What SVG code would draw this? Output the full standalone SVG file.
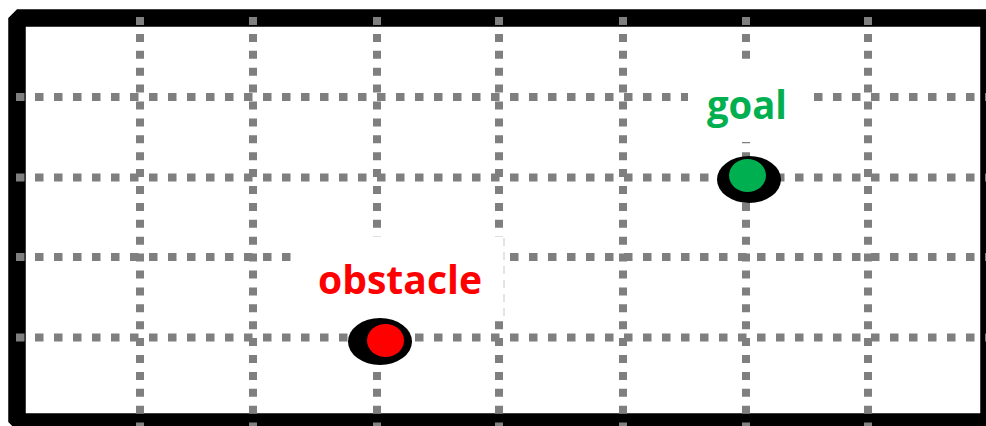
<svg xmlns="http://www.w3.org/2000/svg" width="986" height="426" viewBox="0 0 986 426">
  <style>
    .h { stroke: #7f7f7f; stroke-width: 8; stroke-dasharray: 8.5 10.5; fill: none; }
    .v { stroke: #7f7f7f; stroke-width: 8; stroke-dasharray: 8 8.9; fill: none; }
    .mask { fill: #ffffff; stroke: none; }
    .label { font-family: "Open Sans", "Liberation Sans", sans-serif; font-weight: bold; font-size: 40px; }
    .halo { fill: #000000; }
  </style>
  <rect x="0" y="0" width="986" height="426" fill="#ffffff"/>
  <g id="frame">
    <rect x="17" y="18" width="972" height="404" fill="#ffffff" stroke="#000000" stroke-width="17.5" stroke-linejoin="bevel"/>
  </g>
  <g id="grid">
    <line class="h" x1="16" y1="97" x2="986" y2="97"/>
    <line class="h" x1="16" y1="177.5" x2="986" y2="177.5"/>
    <line class="h" x1="16" y1="257" x2="986" y2="257"/>
    <line class="h" x1="16" y1="337.5" x2="986" y2="337.5"/>
    <line class="v" x1="140" y1="17" x2="140" y2="426"/>
    <line class="v" x1="253" y1="17" x2="253" y2="426"/>
    <line class="v" x1="377" y1="17" x2="377" y2="426"/>
    <line class="v" x1="499" y1="17" x2="499" y2="426"/>
    <line class="v" x1="623" y1="17" x2="623" y2="426"/>
    <line class="v" x1="746" y1="17" x2="746" y2="426"/>
    <line class="v" x1="868" y1="17" x2="868" y2="426"/>
  </g>
  <g id="goal">
    <rect class="mask" x="688" y="59" width="124" height="83"/>
    <text class="label" x="707" y="119" fill="#00b050" textLength="80" lengthAdjust="spacingAndGlyphs">goal</text>
    <ellipse class="halo" cx="749" cy="179.5" rx="32" ry="23.5"/>
    <ellipse cx="747.5" cy="175.5" rx="18.5" ry="16.5" fill="#00b050"/>
  </g>
  <g id="obstacle">
    <rect class="mask" x="292" y="237" width="212" height="81"/>
    <line x1="504" y1="238" x2="504" y2="318" stroke="#c8c8c8" stroke-width="1" stroke-dasharray="8 6"/>
    <text class="label" x="318" y="294" fill="#ff0000" textLength="164" lengthAdjust="spacingAndGlyphs">obstacle</text>
    <ellipse class="halo" cx="380" cy="341.5" rx="32" ry="23.5"/>
    <ellipse cx="385.5" cy="340.5" rx="18.5" ry="16.5" fill="#ff0000"/>
  </g>
</svg>
